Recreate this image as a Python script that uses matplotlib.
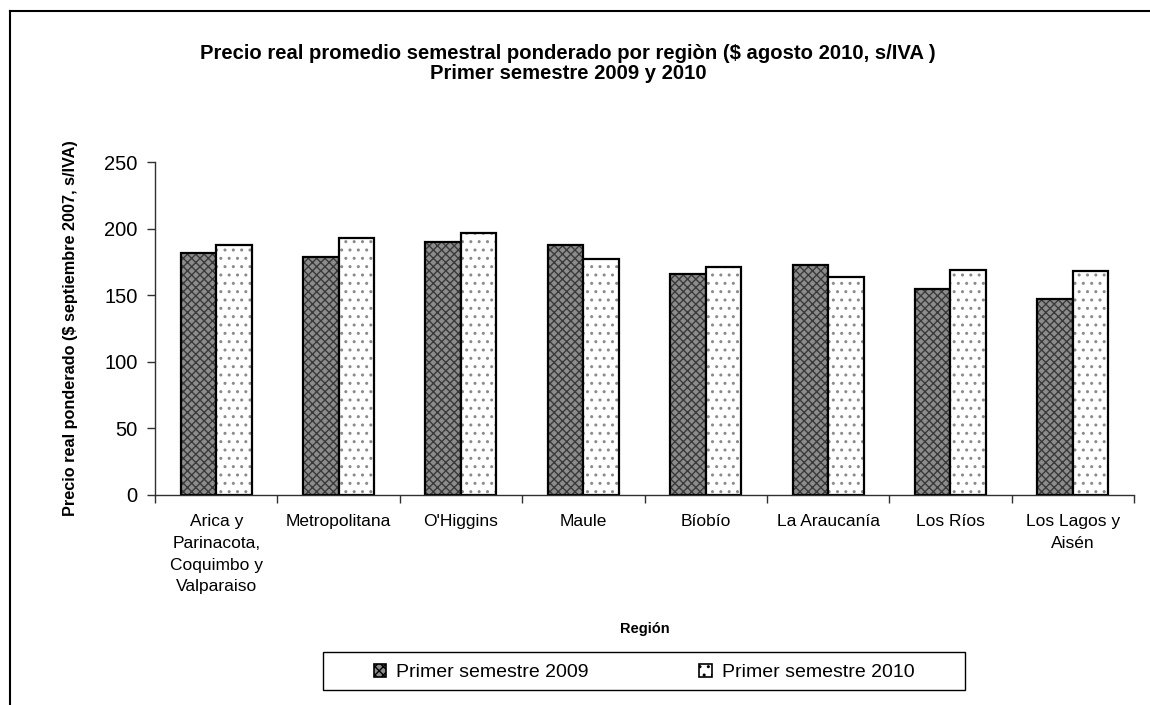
import numpy as np
import matplotlib
matplotlib.use("Agg")
import matplotlib.pyplot as plt
from matplotlib.patches import Patch, Rectangle
from matplotlib.lines import Line2D

plt.rcParams['font.family'] = ['Liberation Sans', 'DejaVu Sans']
plt.rcParams['hatch.linewidth'] = 1.0

# datos
regiones = ["Arica y\nParinacota,\nCoquimbo y\nValparaiso", "Metropolitana", "O'Higgins",
            "Maule", "Bíobío", "La Araucanía", "Los Ríos", "Los Lagos y\nAisén"]
precio_2009 = [182, 179, 190, 188, 166, 173, 155, 147]
precio_2010 = [188, 193, 197, 177, 171, 164, 169, 168]
series = ["Primer semestre 2009", "Primer semestre 2010"]

fig = plt.figure(figsize=(11.5, 7.05), dpi=100)
ax = fig.add_axes([0.1348, 0.2979, 0.8513, 0.4723])

x = np.arange(len(regiones))
w = 0.29

# relleno con trama y luego el borde negro encima
ax.bar(x - w / 2, precio_2009, w, color="#8c8c8c", hatch="xxxx", edgecolor="#3a3a3a", linewidth=0)
ax.bar(x - w / 2, precio_2009, w, fill=False, edgecolor="black", linewidth=1.6)
ax.bar(x + w / 2, precio_2010, w, color="white", hatch="..", edgecolor="#8a8a8a", linewidth=0)
ax.bar(x + w / 2, precio_2010, w, fill=False, edgecolor="black", linewidth=1.6)

ax.set_xlim(-0.5, len(regiones) - 0.5)
ax.set_ylim(0, 250)
ax.set_yticks(np.arange(0, 251, 50))
ax.set_xticks(np.arange(-0.5, len(regiones), 1.0))
ax.set_xticklabels([])
ax.set_xticks(x, minor=True)
ax.set_xticklabels(regiones, minor=True, fontsize=12.5, va="top", linespacing=1.55)
ax.tick_params(axis="x", which="minor", length=0, pad=14)
ax.tick_params(axis="x", which="major", length=6, width=1, color="#303030")
ax.tick_params(axis="y", labelsize=14.5, length=6, width=1, color="#303030", pad=6.5)
for s in ["top", "right"]:
    ax.spines[s].set_visible(False)
for s in ["left", "bottom"]:
    ax.spines[s].set_color("#303030")
    ax.spines[s].set_linewidth(1)

ax.set_ylabel("Precio real ponderado ($ septiembre 2007, s/IVA)", fontsize=11.7, fontweight="bold", labelpad=19)
ax.set_xlabel("Región", fontsize=10.5, fontweight="bold")
ax.xaxis.set_label_coords(0.5, -0.38)

fig.text(0.494, 0.910, "Precio real promedio semestral ponderado por regiòn ($ agosto 2010, s/IVA )\nPrimer semestre 2009 y 2010",
         ha="center", va="center", fontsize=14.6, fontweight="bold", linespacing=1.12)

handles = [Patch(facecolor="#8c8c8c", hatch="xxxx", edgecolor="black", linewidth=1.2),
           Patch(facecolor="white", hatch="..", edgecolor="black", linewidth=1.2)]
leg = fig.legend(handles, series, loc="center", bbox_to_anchor=(0.56, 0.046), ncol=2,
                 fontsize=14, frameon=False,
                 handlelength=0.65, handleheight=0.65, handletextpad=0.5, columnspacing=5.7,
                 borderpad=0, borderaxespad=0)

# caja de la leyenda
fig.add_artist(Rectangle((323 / 1150, 1 - 690 / 705), 642 / 1150, 38 / 705, transform=fig.transFigure,
                         fill=False, edgecolor="black", linewidth=1))

# marco exterior
fig.add_artist(Line2D([10 / 1150, 1], [1 - 11 / 705, 1 - 11 / 705], color="black", linewidth=1.5))
fig.add_artist(Line2D([10 / 1150, 10 / 1150], [0, 1 - 11 / 705], color="black", linewidth=1.5))

fig.savefig("out.png", dpi=100)
